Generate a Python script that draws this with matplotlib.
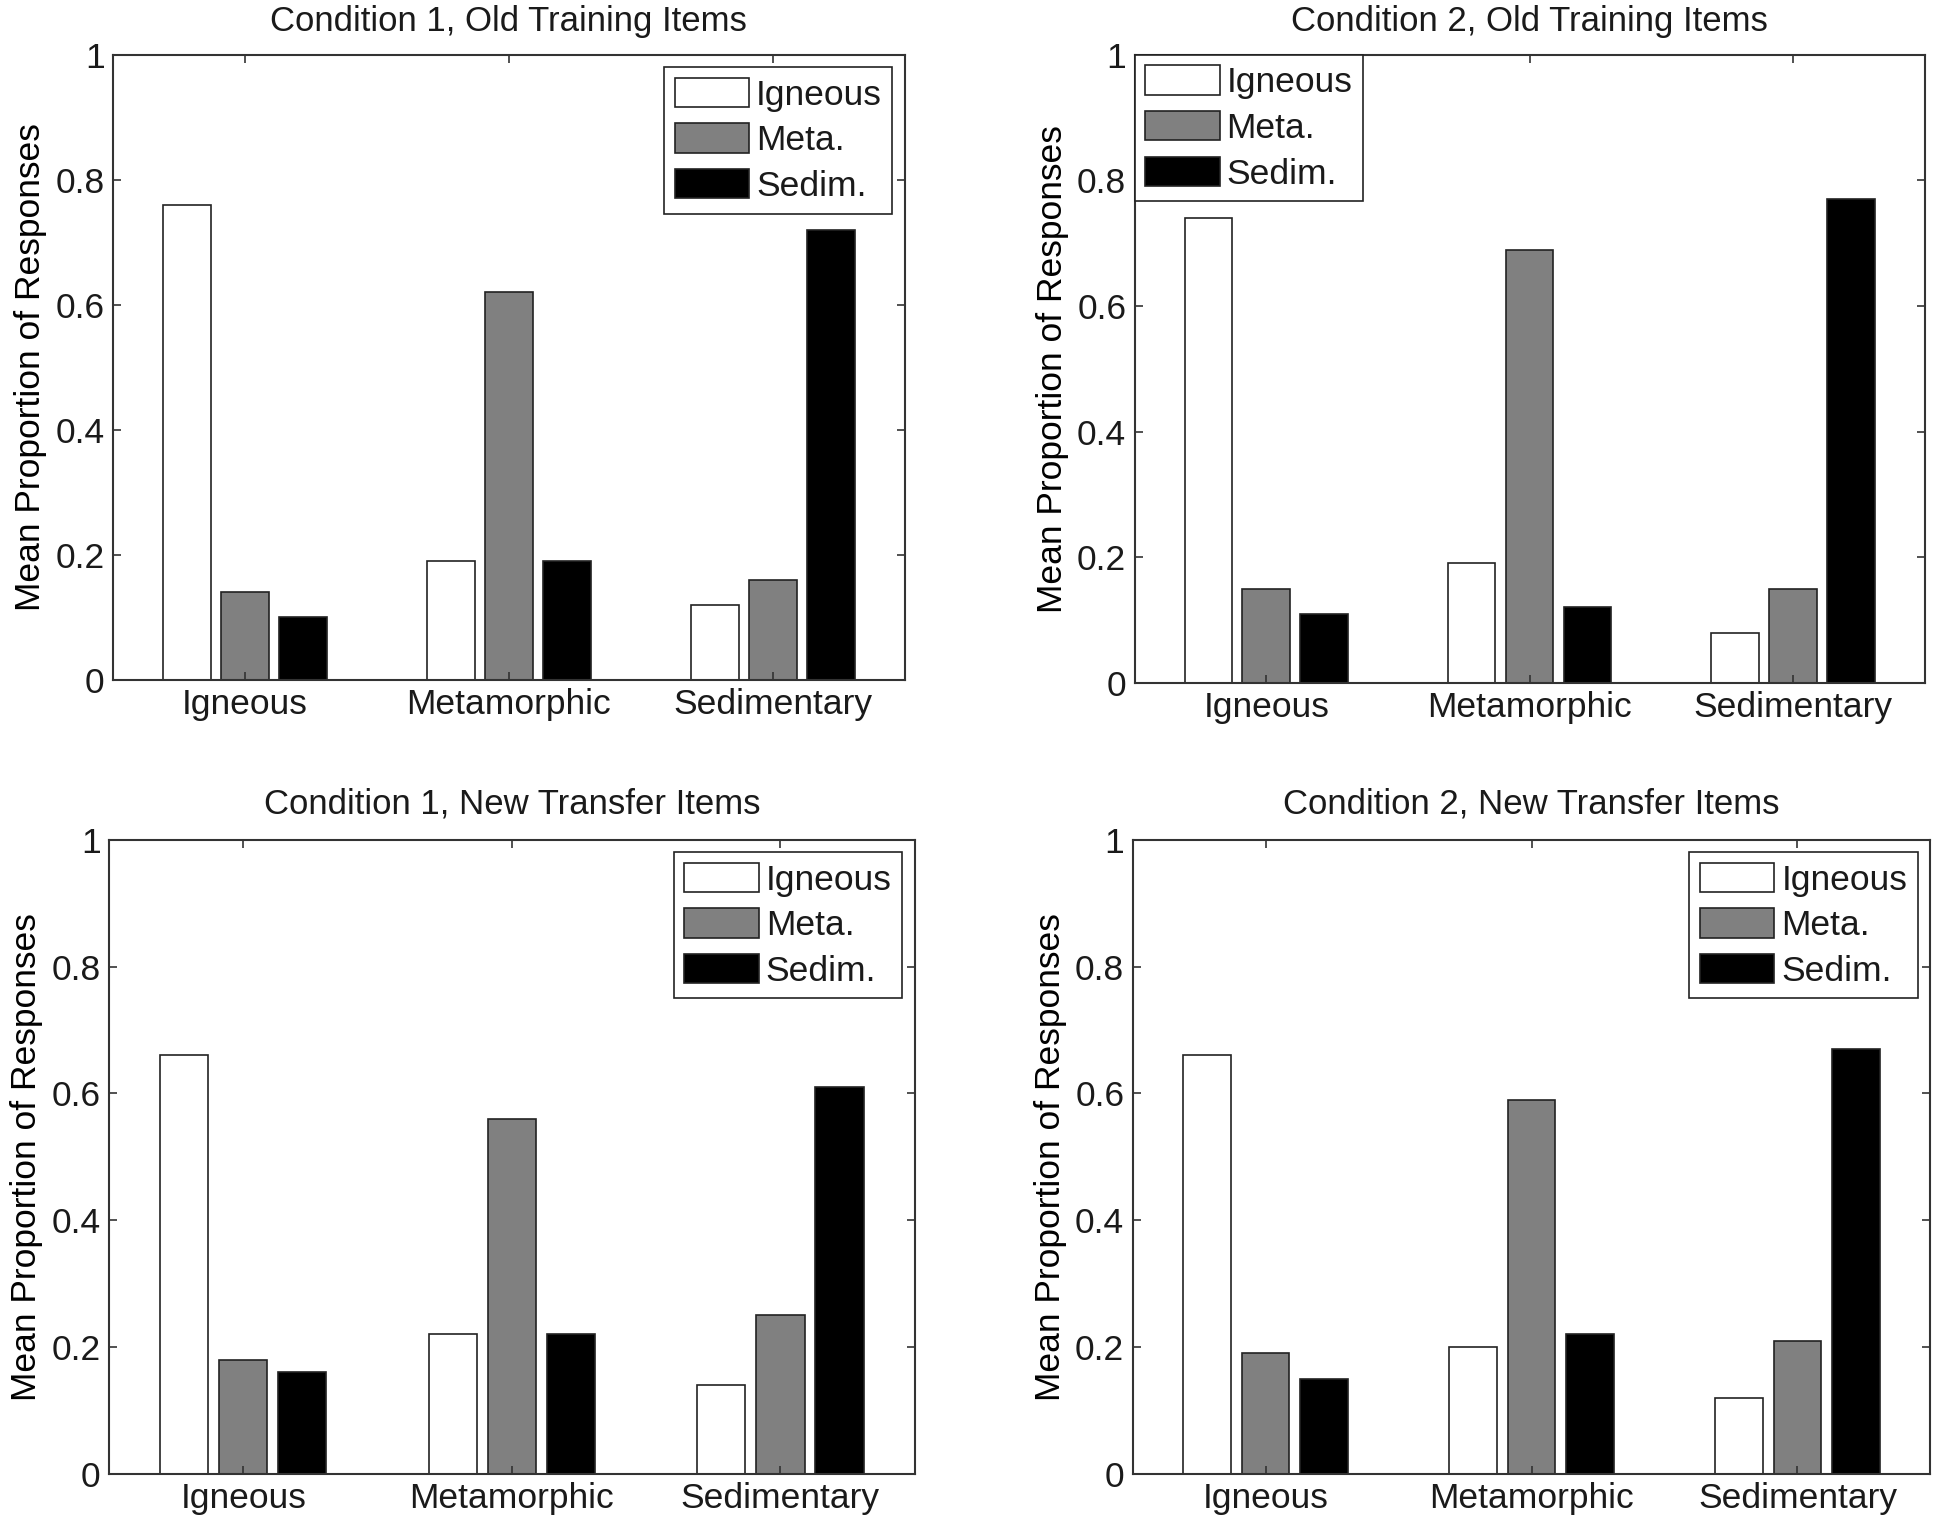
import matplotlib.pyplot as plt
import numpy as np

plt.rcParams.update({
    "font.family": ["Liberation Sans", "DejaVu Sans"],
    "font.size": 25.5,
    "axes.linewidth": 1.5,
    "axes.edgecolor": "#333333",
    "xtick.direction": "in",
    "ytick.direction": "in",
    "text.color": "#1a1a1a",
    "xtick.color": "#333333",
    "ytick.color": "#333333",
    "xtick.labelcolor": "#1a1a1a",
    "ytick.labelcolor": "#1a1a1a",
})

# Data
categories = ["Igneous", "Metamorphic", "Sedimentary"]
responses = ["Igneous", "Meta.", "Sedim."]
titles = [
    "Condition 1, Old Training Items",
    "Condition 2, Old Training Items",
    "Condition 1, New Transfer Items",
    "Condition 2, New Transfer Items",
]
# rows = category of item, columns = response (Igneous, Meta., Sedim.)
cond1_old = [[0.76, 0.14, 0.10], [0.19, 0.62, 0.19], [0.12, 0.16, 0.72]]
cond2_old = [[0.74, 0.15, 0.11], [0.19, 0.69, 0.12], [0.08, 0.15, 0.77]]
cond1_new = [[0.66, 0.18, 0.16], [0.22, 0.56, 0.22], [0.14, 0.25, 0.61]]
cond2_new = [[0.66, 0.19, 0.15], [0.20, 0.59, 0.22], [0.12, 0.21, 0.67]]
panels = [cond1_old, cond2_old, cond1_new, cond2_new]

colors = ["white", "#808080", "black"]
bar_width = 0.18
offsets = [-0.22, 0.0, 0.22]

# axes positions [left, bottom, width, height] in figure fraction
positions = [
    [0.058, 0.554, 0.407, 0.410],
    [0.583, 0.552, 0.406, 0.412],
    [0.056, 0.033, 0.414, 0.416],
    [0.582, 0.033, 0.410, 0.416],
]
legend_locs = [
    dict(loc="upper right", borderaxespad=0.35),
    dict(loc="upper left", borderaxespad=0.0),
    dict(loc="upper right", borderaxespad=0.35),
    dict(loc="upper right", borderaxespad=0.35),
]
title_pads = [17, 17, 19, 19]

fig = plt.figure(figsize=(19.46, 15.24), dpi=100)

x = np.arange(1, len(categories) + 1)
for data, title, pos, leg, tpad in zip(panels, titles, positions, legend_locs, title_pads):
    ax = fig.add_axes(pos)
    vals = np.array(data)
    for j in range(len(responses)):
        ax.bar(x + offsets[j], vals[:, j], width=bar_width, color=colors[j],
               edgecolor="#222222", linewidth=1.2, label=responses[j])
    ax.set_xlim(0.5, 3.5)
    ax.set_ylim(0, 1)
    ax.set_xticks(x)
    ax.set_xticklabels(categories)
    ax.set_yticks([0, 0.2, 0.4, 0.6, 0.8, 1.0])
    ax.set_yticklabels(["0", "0.2", "0.4", "0.6", "0.8", "1"])
    ax.tick_params(top=True, right=True, length=6, width=1.2, pad=6)
    ax.set_ylabel("Mean Proportion of Responses", fontsize=25.5, labelpad=6)
    ax.set_title(title, fontsize=25, pad=tpad)
    lg = ax.legend(fancybox=False, edgecolor="#222222", framealpha=1,
                   handlelength=2.1, handleheight=0.9, handletextpad=0.2,
                   labelspacing=0.33, borderpad=0.3, fontsize=25.5, **leg)
    lg.get_frame().set_linewidth(1.2)

fig.savefig("out.png", dpi=100)
